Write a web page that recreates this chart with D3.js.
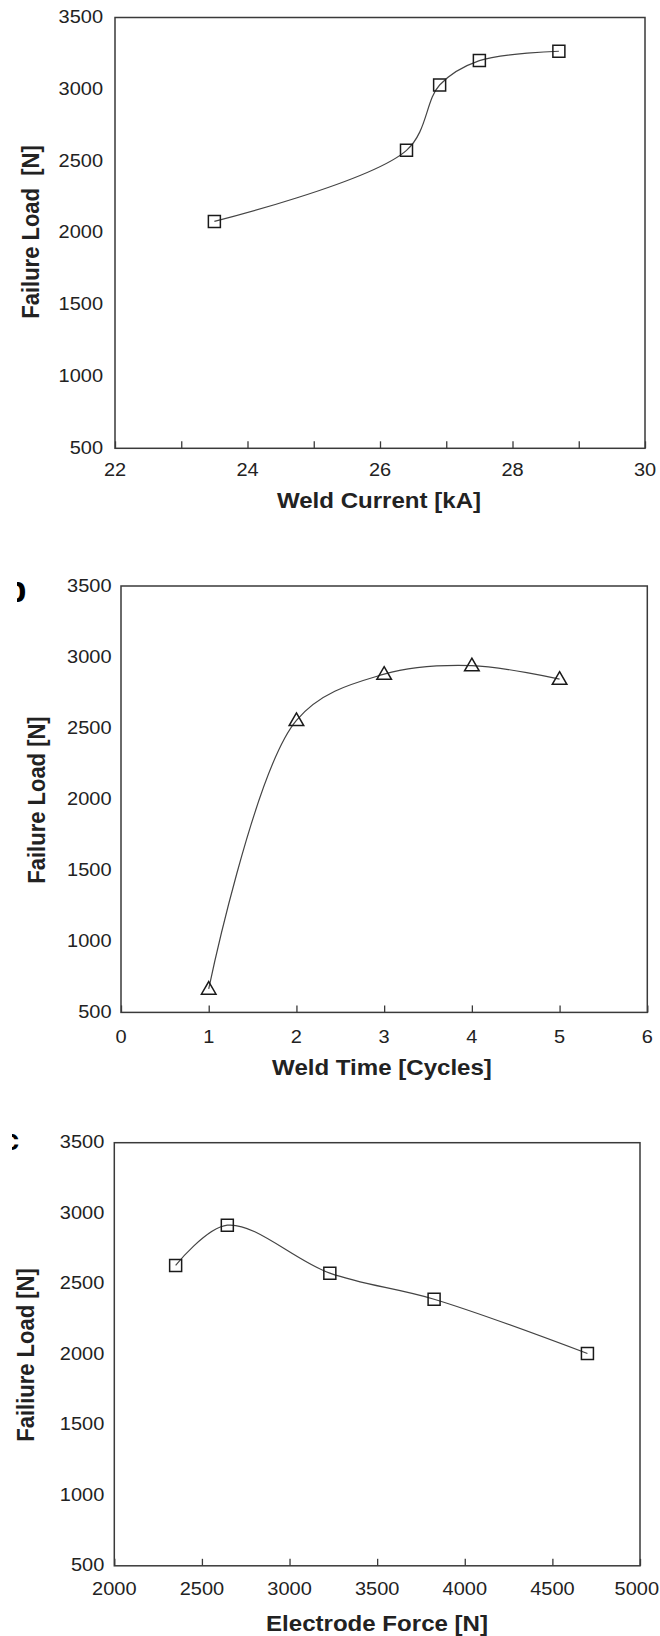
<!DOCTYPE html>
<html>
<head>
<meta charset="utf-8">
<script src="https://cdn.jsdelivr.net/npm/d3@7/dist/d3.min.js"></script>
<style>
  html, body { margin: 0; padding: 0; background: #fff; }
  svg { display: block; }
  text { font-family: "Liberation Sans", Arial, sans-serif; fill: #222; white-space: pre; }
</style>
</head>
<body>
<svg id="chart" width="660" height="1636"></svg>
<script>
// Panel (a): weld current
const currentKA = [23.5, 26.4, 26.9, 27.5, 28.7];
const loadByCurrent = [2080, 2575, 3030, 3200, 3265];
const currentTicks = [22, 23, 24, 25, 26, 27, 28, 29, 30];
const currentTickLabels = ["22", "", "24", "", "26", "", "28", "", "30"];

// Panel (b): weld time
const weldCycles = [1, 2, 3, 4, 5];
const loadByTime = [665, 2555, 2880, 2940, 2845];
const cycleTicks = [0, 1, 2, 3, 4, 5, 6];
const cycleTickLabels = ["0", "1", "2", "3", "4", "5", "6"];

// Panel (c): electrode force
const forceN = [2350, 2645, 3230, 3825, 4700];
const loadByForce = [2630, 2915, 2575, 2390, 2005];
const forceTicks = [2000, 2500, 3000, 3500, 4000, 4500, 5000];
const forceTickLabels = ["2000", "2500", "3000", "3500", "4000", "4500", "5000"];

const loadTicks = [500, 1000, 1500, 2000, 2500, 3000, 3500];
const loadTickLabels = ["500", "1000", "1500", "2000", "2500", "3000", "3500"];

const svg = d3.select("#chart");
const STRETCH = 1.08;
const AXIS = "#3a3a3a";
const PAGE_RIGHT = 659;

// text placed with a slight horizontal stretch
function label(g, x, y, str, opts = {}) {
  const rot = opts.rotate ? ` rotate(${opts.rotate})` : "";
  return g.append("g")
    .attr("transform", `translate(${x},${y}) scale(${STRETCH},1)${rot}`)
    .append("text")
    .attr("text-anchor", opts.anchor || "middle")
    .style("font-size", (opts.size || 18.5) + "px")
    .style("font-weight", opts.bold ? "bold" : "normal")
    .text(str);
}

function panel(cfg) {
  const g = svg.append("g");
  const x = d3.scaleLinear().domain(cfg.xDomain).range([cfg.left, cfg.right]);
  const y = d3.scaleLinear().domain([500, 3500]).range([cfg.bottom, cfg.top]);

  // inward x ticks along the bottom edge
  const xAxis = d3.axisBottom(x).tickValues(cfg.xTicks).tickSize(-7).tickFormat("");
  const ax = g.append("g").attr("transform", `translate(0,${cfg.bottom})`).call(xAxis);
  ax.select(".domain").remove();
  ax.selectAll(".tick line").attr("stroke", AXIS).attr("stroke-width", 1.3);

  // frame
  g.append("rect")
    .attr("x", cfg.left).attr("y", cfg.top)
    .attr("width", cfg.right - cfg.left).attr("height", cfg.bottom - cfg.top)
    .attr("fill", "none").attr("stroke", AXIS).attr("stroke-width", 1.5);

  // tick labels (the last one is kept inside the page)
  cfg.xTicks.forEach((t, i) => {
    const s = cfg.xLabels[i];
    if (!s) return;
    const t1 = label(g, x(t), cfg.bottom + cfg.xLabelOff, s);
    const w = t1.node().getComputedTextLength() * STRETCH;
    if (x(t) + w / 2 > PAGE_RIGHT) {
      t1.attr("text-anchor", "end");
      t1.node().parentNode.setAttribute("transform",
        `translate(${PAGE_RIGHT},${cfg.bottom + cfg.xLabelOff}) scale(${STRETCH},1)`);
    }
  });
  loadTicks.forEach((t, i) => {
    label(g, cfg.left - cfg.yGap, y(t) + 5.5, loadTickLabels[i], { anchor: "end" });
  });

  // axis titles
  label(g, cfg.xTitle[0], cfg.xTitle[1], cfg.xTitleText, { bold: true, size: 22.3 });
  label(g, cfg.yTitle[0], cfg.yTitle[1], cfg.yTitleText, { bold: true, size: 22, rotate: -90 });

  // smoothed curve through the measurements
  const pts = cfg.xs.map((v, i) => [x(v), y(cfg.ys[i])]);
  g.append("path")
    .attr("d", d3.line().curve(d3.curveCatmullRom.alpha(0.5))(pts))
    .attr("fill", "none").attr("stroke", "#444").attr("stroke-width", 1.2);

  // open markers
  const tri = cfg.marker === "triangle";
  const sym = d3.symbol().type(tri ? d3.symbolTriangle : d3.symbolSquare).size(tri ? 92 : 144);
  g.selectAll(".mk").data(pts).join("path")
    .attr("class", "mk")
    .attr("transform", d => `translate(${d[0]},${d[1] + (tri ? 1 : 0)})`)
    .attr("d", sym)
    .attr("fill", "none").attr("stroke", "#1a1a1a").attr("stroke-width", 1.5);

  return g;
}

panel({
  left: 115, right: 645, top: 17.5, bottom: 448.3,
  xDomain: [22, 30], xTicks: currentTicks, xLabels: currentTickLabels,
  xLabelOff: 27.7, yGap: 12,
  xs: currentKA, ys: loadByCurrent, marker: "square",
  xTitleText: "Weld Current [kA]", xTitle: [379, 507.5],
  yTitleText: "Failure Load  [N]", yTitle: [38.7, 232]
});

panel({
  left: 121, right: 647.3, top: 586, bottom: 1012.4,
  xDomain: [0, 6], xTicks: cycleTicks, xLabels: cycleTickLabels,
  xLabelOff: 31, yGap: 9.5,
  xs: weldCycles, ys: loadByTime, marker: "triangle",
  xTitleText: "Weld Time [Cycles]", xTitle: [382, 1074.7],
  yTitleText: "Failure Load [N]", yTitle: [44.5, 800]
});

panel({
  left: 114.3, right: 640, top: 1142.7, bottom: 1565.8,
  xDomain: [2000, 5000], xTicks: forceTicks, xLabels: forceTickLabels,
  xLabelOff: 28.7, yGap: 10,
  xs: forceN, ys: loadByForce, marker: "square",
  xTitleText: "Electrode Force [N]", xTitle: [377, 1631],
  yTitleText: "Failiure Load [N]", yTitle: [34, 1355]
});

// panel letters cut at the left margin
const defs = svg.append("defs");
defs.append("clipPath").attr("id", "clipB").append("rect").attr("x", 17).attr("y", 570).attr("width", 20).attr("height", 40);
defs.append("clipPath").attr("id", "clipC").append("rect").attr("x", 12).attr("y", 1125).attr("width", 20).attr("height", 35);
svg.append("text").attr("clip-path", "url(#clipB)")
  .attr("x", 4.5).attr("y", 602).style("font-size", "36px").style("font-weight", "bold").style("fill", "#000").text("b");
svg.append("text").attr("clip-path", "url(#clipC)")
  .attr("x", 3).attr("y", 1150).style("font-size", "29px").style("font-weight", "bold").style("fill", "#000").text("c");
</script>
</body>
</html>
